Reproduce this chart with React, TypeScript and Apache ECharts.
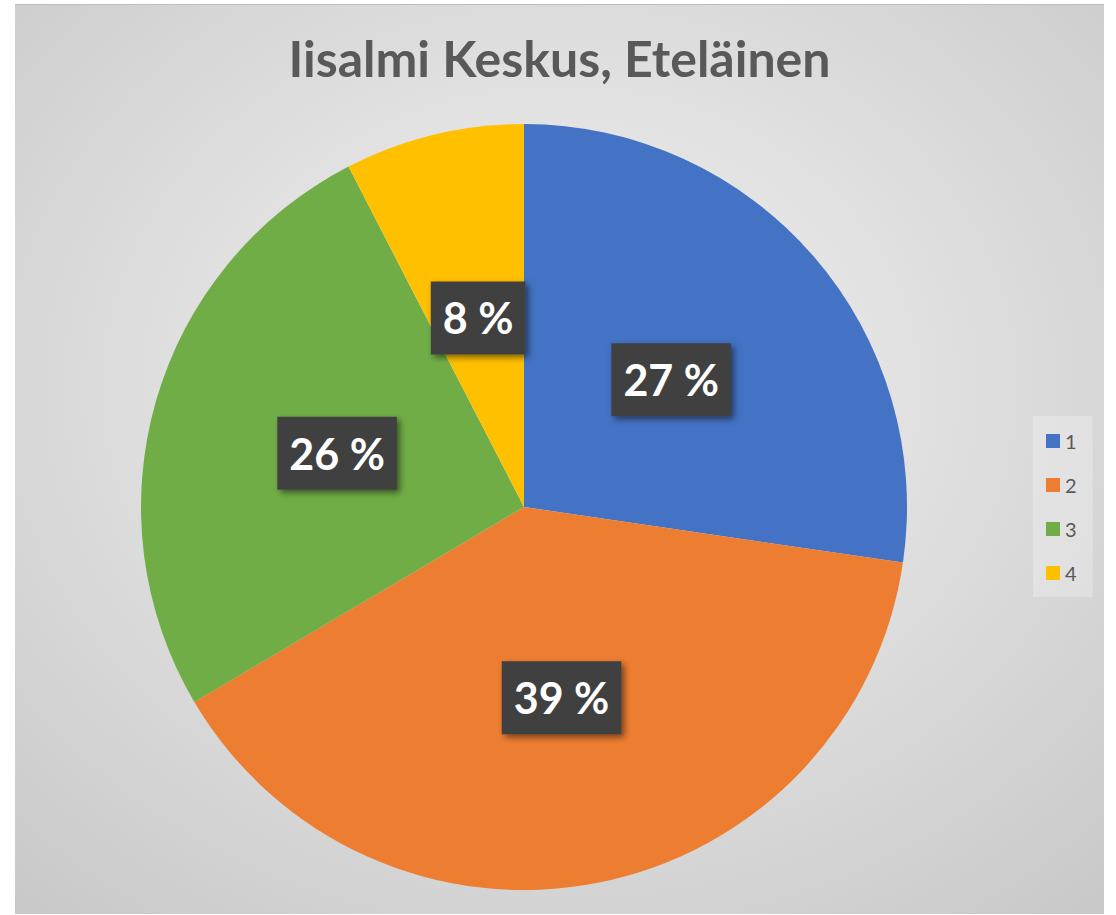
import React, { useEffect, useRef } from "react";
import * as echarts from "echarts";

const categories = ["1", "2", "3", "4"];
const values = [27.4, 39.3, 26.0, 7.6];
const colors = ["#4472C4", "#ED7D31", "#70AD47", "#FFC000"];
const titleText = "Iisalmi Keskus, Eteläinen";

export default function App() {
  const ref = useRef<HTMLDivElement>(null);
  useEffect(() => {
    if (!ref.current) return;
    const chart = echarts.init(ref.current, undefined, { renderer: "svg" });
    chart.setOption({
      animation: false,
      backgroundColor: {
        type: "radial",
        x: 0.5,
        y: 0.42,
        r: 0.75,
        colorStops: [
          { offset: 0, color: "#f3f3f3" },
          { offset: 1, color: "#c9c9c9" },
        ],
      },
      title: {
        text: titleText,
        left: "center",
        top: 23,
        textStyle: {
          fontFamily: "Lato",
          fontWeight: "bold",
          fontSize: 50,
          color: "#595959",
        },
      },
      legend: {
        orient: "vertical",
        left: 1018,
        top: 411,
        data: categories,
        itemWidth: 14,
        itemHeight: 14,
        itemGap: 24,
        padding: [15, 16, 14, 13],
        backgroundColor: "rgba(255,255,255,0.25)",
        icon: "rect",
        textStyle: {
          fontFamily: "Lato",
          fontSize: 20,
          lineHeight: 14,
          color: "#595959",
        },
      },
      series: [
        {
          type: "pie",
          center: [509, 502],
          radius: 383,
          startAngle: 90,
          clockwise: true,
          data: categories.map((c, i) => ({ name: c, value: values[i], itemStyle: { color: colors[i] } })),
          label: {
            show: true,
            position: "inside",
            formatter: (p: any) => Math.round(p.percent) + " %",
            fontFamily: "Lato",
            fontWeight: "bold",
            fontSize: 43,
            color: "#ffffff",
            backgroundColor: "#404040",
            padding: [17, 12, 13, 12],
            shadowColor: "rgba(0,0,0,0.5)",
            shadowBlur: 6,
            shadowOffsetX: 3,
            shadowOffsetY: 3,
          },
          labelLine: { show: false },
          emphasis: { disabled: true },
        },
      ],
    });
    return () => chart.dispose();
  }, []);
  return (
    <div
      ref={ref}
      style={{
        position: "absolute",
        left: 15,
        top: 4,
        width: 1089,
        height: 910,
        boxSizing: "border-box",
        borderTop: "1px solid #bdbdbd",
      }}
    />
  );
}
